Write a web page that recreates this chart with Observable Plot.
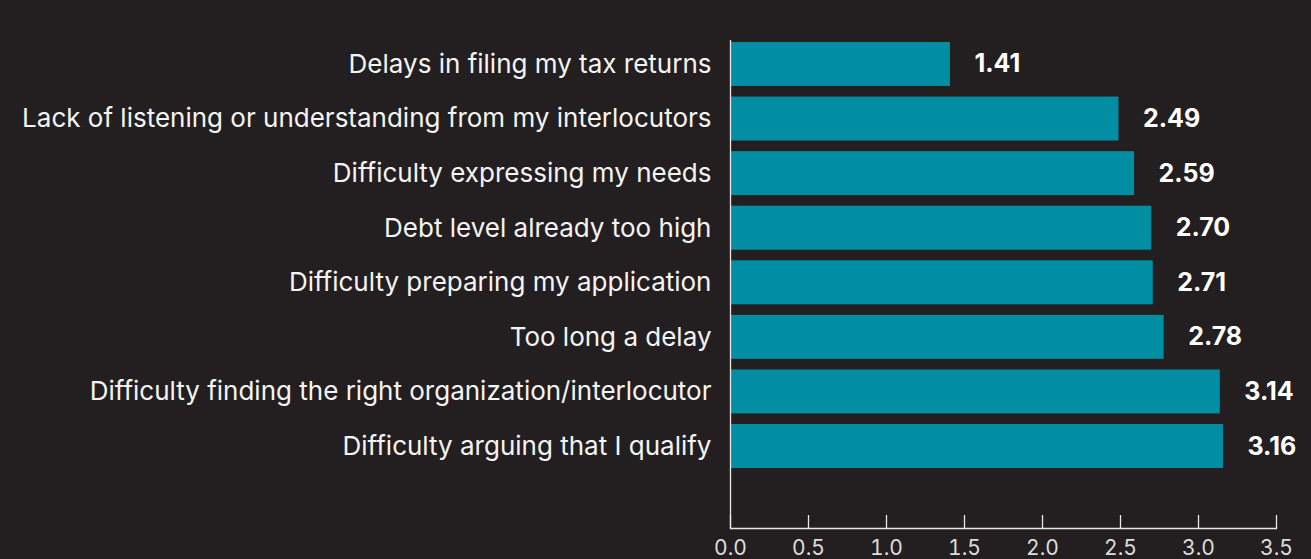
<!DOCTYPE html>
<html>
<head>
<meta charset="utf-8">
<script src="https://cdn.jsdelivr.net/npm/d3@7"></script>
<script src="https://cdn.jsdelivr.net/npm/@observablehq/plot@0.6"></script>
<style>
  html, body { margin: 0; padding: 0; background: #231f20; }
  #chart svg { display: block; }
</style>
</head>
<body>
<div id="chart"></div>
<script>
const categories = [
  "Delays in filing my tax returns",
  "Lack of listening or understanding from my interlocutors",
  "Difficulty expressing my needs",
  "Debt level already too high",
  "Difficulty preparing my application",
  "Too long a delay",
  "Difficulty finding the right organization/interlocutor",
  "Difficulty arguing that I qualify"
];
const values = [1.41, 2.49, 2.59, 2.70, 2.71, 2.78, 3.14, 3.16];
const xTicks = [0, 0.5, 1, 1.5, 2, 2.5, 3, 3.5];

const data = categories.map((c, i) => ({label: c, value: values[i]}));

const chart = Plot.plot({
  width: 1311,
  height: 559,
  marginLeft: 730,
  marginRight: 35,
  marginTop: 40,
  marginBottom: 31,
  style: {background: "#231f20", color: "#ffffff", fontFamily: "Inter, 'Open Sans', sans-serif"},
  x: {domain: [0, 3.5], axis: null, label: null},
  y: {domain: categories, range: [31.4, 478.6], padding: 0.194, round: false, axis: null, label: null},
  marks: [
    Plot.barX(data, {x: "value", y: "label", fill: "#018ea2"}),
    Plot.text(data, {
      x: "value", y: "label",
      text: d => d3.format(".2f")(d.value),
      textAnchor: "start", dx: 24,
      fontWeight: "bold", fontSize: 25, fill: "#ffffff"
    }),
    Plot.axisY(categories, {
      tickSize: 0, tickPadding: 19, fontSize: 26, fill: "#f4f4f4", label: null
    }),
    Plot.tickX(xTicks, {x: d => d, insetTop: 475, stroke: "#e8e8e8", strokeWidth: 1.3}),
    Plot.ruleX([0], {stroke: "#e8e8e8", strokeWidth: 1.3}),
    Plot.frame({anchor: "bottom", stroke: "#e8e8e8", strokeWidth: 1.3}),
    Plot.axisX(xTicks, {
      tickSize: 0, tickPadding: 12, fontSize: 21, fill: "#dcdcdc",
      tickFormat: d3.format(".1f"), label: null
    })
  ]
});
document.getElementById("chart").appendChild(chart);
</script>
</body>
</html>
